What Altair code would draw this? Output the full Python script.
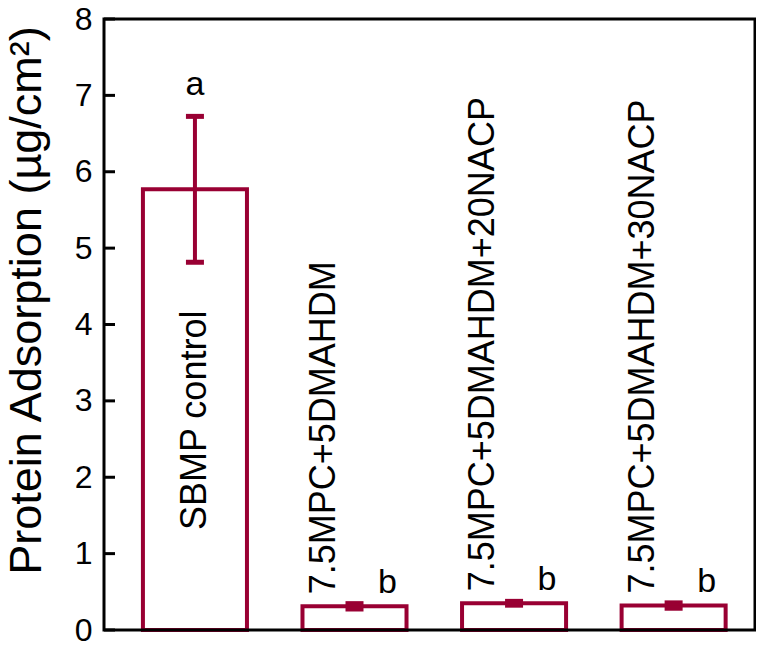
import altair as alt
import pandas as pd

categories = ["SBMP control", "7.5MPC+5DMAHDM", "7.5MPC+5DMAHDM+20NACP", "7.5MPC+5DMAHDM+30NACP"]
means = [5.77, 0.31, 0.35, 0.32]
errors = [0.955, 0.035, 0.025, 0.035]
letters = ["a", "b", "b", "b"]
y_ticks = [0, 1, 2, 3, 4, 5, 6, 7, 8]

COLOR = "#990033"
FONT = "Liberation Sans"
TITLE = "Protein Adsorption (µg/cm²)"
W, H = 651, 611

df = pd.DataFrame({
    "cat": categories,
    "mean": means,
    "lo": [m - e for m, e in zip(means, errors)],
    "hi": [m + e for m, e in zip(means, errors)],
    "letter": letters,
    "idx": list(range(len(categories))),
})
ticks_df = pd.DataFrame({"t": y_ticks})
frame_df = pd.DataFrame({"k": [0]})

xscale = alt.Scale(paddingInner=0.348, paddingOuter=0.214, align=0.57)
yscale = alt.Scale(domain=[0, 8], nice=False, zero=True)
yaxis = alt.Axis(values=y_ticks, ticks=False, tickSize=0, domain=False, grid=False,
                 labelFontSize=32, labelFont=FONT, labelColor="black", labelPadding=12,
                 titleFontSize=45, titleFont=FONT, titleFontWeight="normal", titleColor="black",
                 titleAngle=270, titleAlign="center", titleBaseline="alphabetic",
                 titleX=-64, titleY=281)


def X():
    return alt.X("cat:N", sort=categories, axis=None, scale=xscale)


def Y(field):
    return alt.Y(field, scale=yscale, axis=yaxis, title=TITLE)


base = alt.Chart(df)

bars = base.mark_bar(fill="white", stroke=COLOR, strokeWidth=4, opacity=1).encode(x=X(), y=Y("mean:Q"))
err = base.mark_rule(color=COLOR, strokeWidth=4, opacity=1).encode(x=X(), y=Y("lo:Q"), y2="hi:Q")
cap_lo = base.mark_tick(color=COLOR, size=18, thickness=5, opacity=1).encode(x=X(), y=Y("lo:Q"))
cap_hi = base.mark_tick(color=COLOR, size=18, thickness=5, opacity=1).encode(x=X(), y=Y("hi:Q"))

lab_first = base.transform_filter("datum.idx == 0").mark_text(
    angle=270, align="left", baseline="middle", fontSize=36, font=FONT, color="black"
).encode(x=X(), y=alt.value(511), text="cat:N")

lab_rest = base.transform_filter("datum.idx > 0").mark_text(
    angle=270, align="left", baseline="middle", fontSize=36, font=FONT, color="black", dx=12, dy=-31
).encode(x=X(), y=Y("mean:Q"), text="cat:N")

let_a = base.transform_filter("datum.idx == 0").mark_text(
    baseline="alphabetic", fontSize=34, font=FONT, color="black", dy=-21
).encode(x=X(), y=Y("hi:Q"), text="letter:N")

let_b = base.transform_filter("datum.idx > 0").mark_text(
    baseline="alphabetic", fontSize=34, font=FONT, color="black", dx=33, dy=-11
).encode(x=X(), y=Y("hi:Q"), text="letter:N")

yticks = alt.Chart(ticks_df).mark_rule(color="black", strokeWidth=3, opacity=1).encode(
    y=Y("t:Q"), x=alt.value(0), x2=alt.value(11)
)

frame = alt.Chart(frame_df).mark_rect(
    fillOpacity=0, stroke="black", strokeWidth=3, opacity=1
).encode(x=alt.value(0), x2=alt.value(W), y=alt.value(0), y2=alt.value(H))

chart = alt.layer(bars, err, cap_lo, cap_hi, lab_first, lab_rest, let_a, let_b, yticks, frame).properties(
    width=W, height=H,
    padding={"left": 96, "top": 11, "right": 1, "bottom": 15},
    autosize="none",
).configure(background="white", view=alt.ViewConfig(stroke="transparent", strokeWidth=0))

chart.save("out.html", embed_options={"renderer": "svg", "actions": False})
